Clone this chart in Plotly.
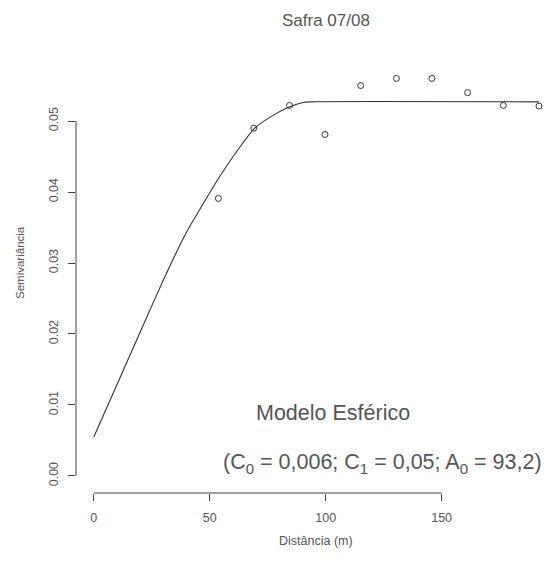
import plotly.graph_objects as go

dist = [53.7, 69.0, 84.4, 99.7, 115.1, 130.5, 145.8, 161.2, 176.6, 192.0]
semiv = [0.0391, 0.0490, 0.0522, 0.0481, 0.0550, 0.0560, 0.0560, 0.0540, 0.0522, 0.0521]

# Fitted spherical model line
model_x = [0.0, 20.3, 29.7, 39.9, 47.1, 52.8, 58.6, 69.4, 77.3, 84.5, 90.2, 93.2, 192.0]
model_y = [0.0055, 0.0205, 0.0274, 0.0343, 0.0383, 0.0414, 0.0443, 0.0490, 0.0508, 0.0520, 0.0526, 0.0527, 0.0527]

x_ticks = [0, 50, 100, 150]
y_ticks = [0.00, 0.01, 0.02, 0.03, 0.04, 0.05]
y_tick_text = ["0.00", "0.01", "0.02", "0.03", "0.04", "0.05"]

title_text = "Safra 07/08"
x_title = "Distância (m)"
y_title = "Semivariância"
model_name = "Modelo Esférico"
model_params = "(C<sub>0</sub> = 0,006; C<sub>1</sub> = 0,05; A<sub>0</sub> = 93,2)"

W, H = 552, 563
L, R, T, B = 76, 0, 33, 70
FONT = "Liberation Sans, Arial, sans-serif"
GREY = "#555555"
AX = "#444444"

def px_to_paper_x(px):
    return (px - L) / (W - L - R)

def px_to_paper_y(py):
    return (H - B - py) / (H - T - B)

fig = go.Figure()
fig.add_trace(go.Scatter(x=model_x, y=model_y, mode="lines",
                         line=dict(color="#333333", width=1.1, shape="spline", smoothing=0.5),
                         hoverinfo="skip"))
fig.add_trace(go.Scatter(x=dist, y=semiv, mode="markers",
                         marker=dict(symbol="circle-open", size=6, color="#333333",
                                     line=dict(width=1, color="#333333"))))

fig.update_layout(
    width=W, height=H,
    margin=dict(l=L, r=R, t=T, b=B),
    paper_bgcolor="white", plot_bgcolor="white",
    showlegend=False,
    font=dict(family=FONT, color=GREY),
    xaxis=dict(range=[-7.68, 197.6], tickvals=x_ticks, ticks="outside", ticklen=7,
               tickcolor=AX, tickwidth=1, showgrid=False, zeroline=False, showline=False,
               tickfont=dict(size=12.5, color=GREY), ticklabelstandoff=6),
    yaxis=dict(range=[-0.0024, 0.0624], tickvals=y_ticks, ticktext=y_tick_text,
               ticks="outside", ticklen=7, tickcolor=AX, tickwidth=1, showgrid=False,
               zeroline=False, showline=False, tickangle=-90,
               tickfont=dict(size=12.5, color=GREY), ticklabelstandoff=5),
)

# R-style axis lines spanning first to last tick
fig.add_shape(type="line", xref="x", yref="paper", x0=min(x_ticks), x1=max(x_ticks),
              y0=0, y1=0, line=dict(color=AX, width=1))
fig.add_shape(type="line", xref="paper", yref="y", x0=0, x1=0,
              y0=min(y_ticks), y1=max(y_ticks), line=dict(color=AX, width=1))

fig.add_annotation(text=title_text, xref="paper", yref="paper",
                   x=px_to_paper_x(326), y=px_to_paper_y(21), showarrow=False,
                   xanchor="center", yanchor="middle", font=dict(size=17, color=GREY))
fig.add_annotation(text=x_title, xref="paper", yref="paper",
                   x=px_to_paper_x(316), y=px_to_paper_y(541), showarrow=False,
                   xanchor="center", yanchor="middle", font=dict(size=12.5, color=GREY))
fig.add_annotation(text=y_title, xref="paper", yref="paper",
                   x=px_to_paper_x(20), y=px_to_paper_y(263), showarrow=False,
                   textangle=-90, xanchor="center", yanchor="middle",
                   font=dict(size=11.5, color=GREY))
fig.add_annotation(text=model_name, xref="paper", yref="paper",
                   x=px_to_paper_x(333), y=px_to_paper_y(413), showarrow=False,
                   xanchor="center", yanchor="middle", font=dict(size=21.5, color=GREY))
fig.add_annotation(text=model_params, xref="paper", yref="paper",
                   x=px_to_paper_x(544), y=px_to_paper_y(463), showarrow=False,
                   xanchor="right", yanchor="middle", font=dict(size=21.5, color=GREY))

fig.write_html("out.html")
